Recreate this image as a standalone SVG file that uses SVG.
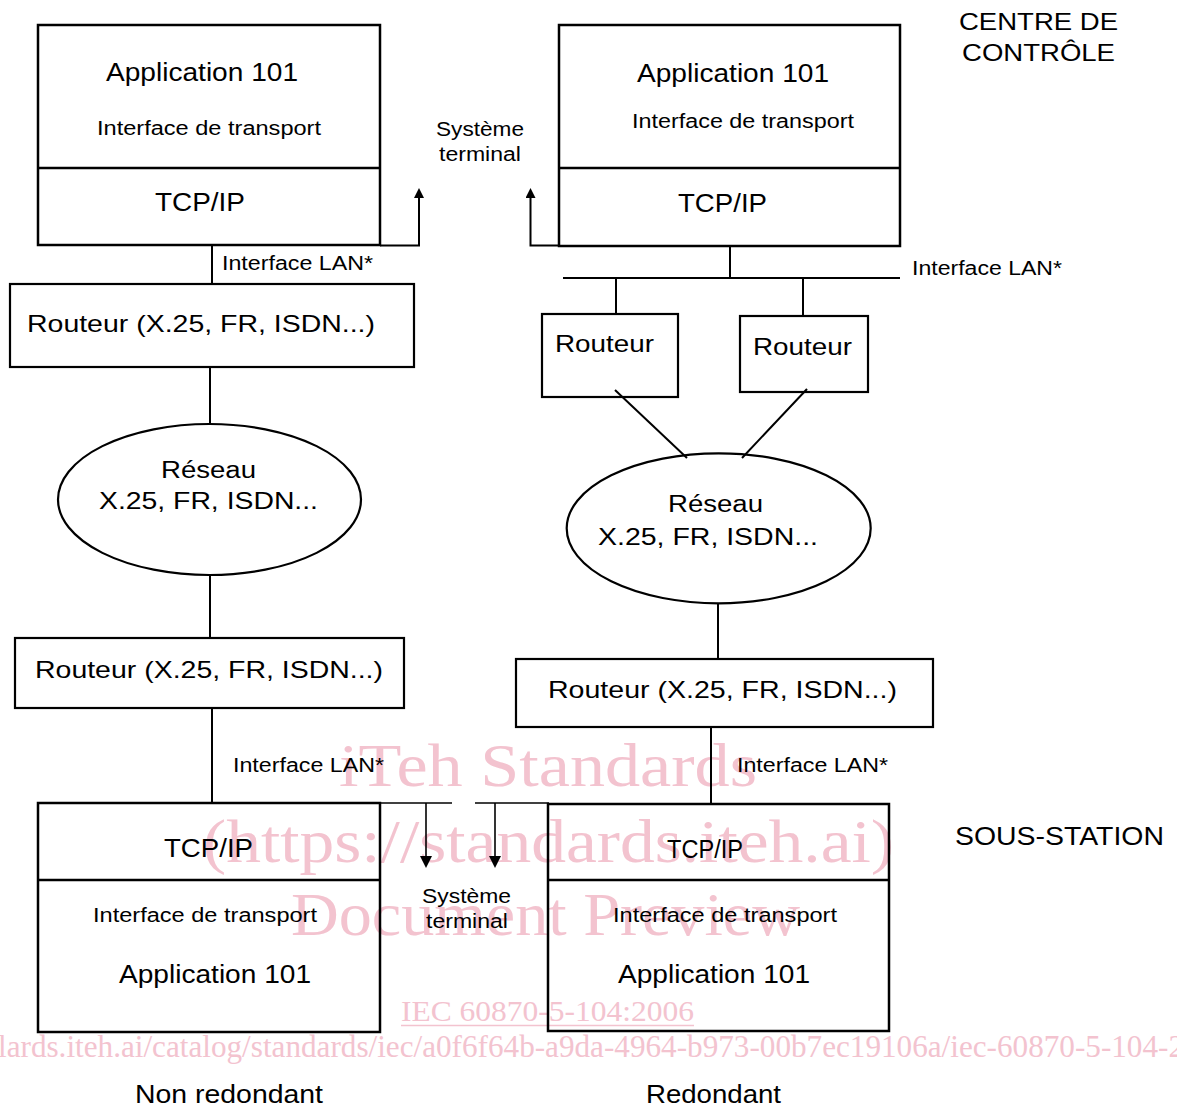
<svg xmlns="http://www.w3.org/2000/svg" width="1177" height="1110" viewBox="0 0 1177 1110">
<defs>
<style>
.bg{fill:#ffffff}
.box{fill:none;stroke:#000;stroke-width:2.5}
.rbox{fill:none;stroke:#000;stroke-width:2.2}
.ln{fill:none;stroke:#000;stroke-width:2}
.thin{fill:none;stroke:#000;stroke-width:1.6}
text{font-family:"Liberation Sans",Arial,sans-serif;fill:#000}
.t25{font-size:25px}
.t24{font-size:24px}
.t23{font-size:23px}
.t20{font-size:20px}
.wm{font-family:"Liberation Serif","Times New Roman",serif;fill:#f3c3cf}
</style>
<marker id="arr" viewBox="0 0 10 10" refX="0" refY="5" markerWidth="11" markerHeight="10" markerUnits="userSpaceOnUse" orient="auto">
<path d="M0,0 L10,5 L0,10 z" fill="#000"/>
</marker>
</defs>
<rect class="bg" x="0" y="0" width="1177" height="1110"/>

<g id="watermark">
<text class="wm" x="339" y="786" font-size="62" textLength="418" lengthAdjust="spacingAndGlyphs">iTeh Standards</text>
<text class="wm" x="203" y="862" font-size="62" textLength="691" lengthAdjust="spacingAndGlyphs">(https://standards.iteh.ai)</text>
<text class="wm" x="291" y="935" font-size="62" textLength="509" lengthAdjust="spacingAndGlyphs">Document Preview</text>
<text class="wm" x="401" y="1021" font-size="30" textLength="293" lengthAdjust="spacingAndGlyphs">IEC 60870-5-104:2006</text>
<line x1="401" y1="1025.5" x2="694" y2="1025.5" stroke="#f3c3cf" stroke-width="1.5"/>
<text class="wm" x="-2" y="1057" font-size="32" textLength="1186" lengthAdjust="spacingAndGlyphs">lards.iteh.ai/catalog/standards/iec/a0f6f64b-a9da-4964-b973-00b7ec19106a/iec-60870-5-104-2</text>
</g>

<g id="connectors">
<line class="ln" x1="212" y1="246" x2="212" y2="284"/>
<path class="ln" d="M380,245.5 H419 V198" marker-end="url(#arr)"/>
<path class="ln" d="M559,245.5 H530.5 V198" marker-end="url(#arr)"/>
<line class="ln" x1="210" y1="367" x2="210" y2="424"/>
<line class="ln" x1="210" y1="575" x2="210" y2="638"/>
<line class="ln" x1="212" y1="708" x2="212" y2="803"/>
<line class="ln" x1="730" y1="246" x2="730" y2="278"/>
<line class="ln" x1="563" y1="278" x2="900" y2="278"/>
<line class="ln" x1="616" y1="278" x2="616" y2="314"/>
<line class="ln" x1="803" y1="278" x2="803" y2="316"/>
<line class="ln" x1="615" y1="390" x2="687" y2="458"/>
<line class="ln" x1="807" y1="389" x2="742" y2="458"/>
<line class="ln" x1="718" y1="603" x2="718" y2="659"/>
<line class="ln" x1="711" y1="727" x2="711" y2="804"/>
<line class="thin" x1="373" y1="803" x2="452" y2="803"/>
<line class="thin" x1="475" y1="803" x2="549" y2="803"/>
<line class="thin" x1="426" y1="803" x2="426" y2="857"/>
<line class="thin" x1="495" y1="803" x2="495" y2="857"/>
<path d="M420,856 L432,856 L426,868 z" fill="#000"/>
<path d="M489,856 L501,856 L495,868 z" fill="#000"/>
</g>

<g id="cc-nonred">
<rect class="box" x="38" y="25" width="342" height="220"/>
<line class="box" x1="38" y1="168" x2="380" y2="168"/>
<text class="t25" x="106" y="81" textLength="192" lengthAdjust="spacingAndGlyphs">Application 101</text>
<text class="t20" x="97" y="135" textLength="224" lengthAdjust="spacingAndGlyphs">Interface de transport</text>
<text class="t25" x="155" y="211" textLength="90" lengthAdjust="spacingAndGlyphs">TCP/IP</text>
</g>

<g id="cc-red">
<rect class="box" x="559" y="25" width="341" height="221"/>
<line class="box" x1="559" y1="168" x2="900" y2="168"/>
<text class="t25" x="637" y="82" textLength="192" lengthAdjust="spacingAndGlyphs">Application 101</text>
<text class="t20" x="632" y="128" textLength="222" lengthAdjust="spacingAndGlyphs">Interface de transport</text>
<text class="t25" x="678" y="212" textLength="89" lengthAdjust="spacingAndGlyphs">TCP/IP</text>
</g>

<g id="label-systeme-top">
<text class="t20" x="436" y="136" textLength="88" lengthAdjust="spacingAndGlyphs">Système</text>
<text class="t20" x="439" y="161" textLength="82" lengthAdjust="spacingAndGlyphs">terminal</text>
</g>

<g id="label-centre">
<text class="t24" x="959" y="30" textLength="159" lengthAdjust="spacingAndGlyphs">CENTRE DE</text>
<text class="t24" x="962" y="61" textLength="153" lengthAdjust="spacingAndGlyphs">CONTRÔLE</text>
</g>

<g id="lan-labels">
<text class="t20" x="222" y="270" textLength="151" lengthAdjust="spacingAndGlyphs">Interface LAN*</text>
<text class="t20" x="912" y="275" textLength="150" lengthAdjust="spacingAndGlyphs">Interface LAN*</text>
<text class="t20" x="233" y="772" textLength="151" lengthAdjust="spacingAndGlyphs">Interface LAN*</text>
<text class="t20" x="737" y="772" textLength="151" lengthAdjust="spacingAndGlyphs">Interface LAN*</text>
</g>

<g id="router-left-top">
<rect class="rbox" x="10" y="284" width="404" height="83"/>
<text class="t24" x="27" y="332" textLength="348" lengthAdjust="spacingAndGlyphs">Routeur (X.25, FR, ISDN...)</text>
</g>

<g id="network-left">
<ellipse class="rbox" cx="209.5" cy="499.5" rx="151.5" ry="75.5"/>
<text class="t23" x="161" y="478" textLength="95" lengthAdjust="spacingAndGlyphs">Réseau</text>
<text class="t23" x="99" y="509" textLength="219" lengthAdjust="spacingAndGlyphs">X.25, FR, ISDN...</text>
</g>

<g id="router-left-bottom">
<rect class="rbox" x="15" y="638" width="389" height="70"/>
<text class="t24" x="35" y="678" textLength="348" lengthAdjust="spacingAndGlyphs">Routeur (X.25, FR, ISDN...)</text>
</g>

<g id="router-right-1">
<rect class="rbox" x="542" y="314" width="136" height="83"/>
<text class="t24" x="555" y="352" textLength="99" lengthAdjust="spacingAndGlyphs">Routeur</text>
</g>

<g id="router-right-2">
<rect class="rbox" x="740" y="316" width="128" height="76"/>
<text class="t24" x="753" y="355" textLength="99" lengthAdjust="spacingAndGlyphs">Routeur</text>
</g>

<g id="network-right">
<ellipse class="rbox" cx="718.7" cy="528.3" rx="152" ry="75"/>
<text class="t23" x="668" y="512" textLength="95" lengthAdjust="spacingAndGlyphs">Réseau</text>
<text class="t23" x="598" y="545" textLength="220" lengthAdjust="spacingAndGlyphs">X.25, FR, ISDN...</text>
</g>

<g id="router-right-bottom">
<rect class="rbox" x="516" y="659" width="417" height="68"/>
<text class="t24" x="548" y="698" textLength="349" lengthAdjust="spacingAndGlyphs">Routeur (X.25, FR, ISDN...)</text>
</g>

<g id="ss-nonred">
<rect class="box" x="38" y="803" width="342" height="229"/>
<line class="box" x1="38" y1="880" x2="380" y2="880"/>
<text class="t25" x="164" y="857" textLength="89" lengthAdjust="spacingAndGlyphs">TCP/IP</text>
<text class="t20" x="93" y="922" textLength="224" lengthAdjust="spacingAndGlyphs">Interface de transport</text>
<text class="t25" x="119" y="983" textLength="192" lengthAdjust="spacingAndGlyphs">Application 101</text>
</g>

<g id="ss-red">
<rect class="box" x="548" y="804" width="341" height="227"/>
<line class="box" x1="548" y1="880" x2="889" y2="880"/>
<text class="t25" x="667" y="858" textLength="76" lengthAdjust="spacingAndGlyphs">TCP/IP</text>
<text class="t20" x="613" y="922" textLength="224" lengthAdjust="spacingAndGlyphs">Interface de transport</text>
<text class="t25" x="618" y="983" textLength="192" lengthAdjust="spacingAndGlyphs">Application 101</text>
</g>

<g id="label-systeme-bottom">
<text class="t20" x="422" y="903" textLength="89" lengthAdjust="spacingAndGlyphs">Système</text>
<text class="t20" x="426" y="928" textLength="82" lengthAdjust="spacingAndGlyphs">terminal</text>
</g>

<g id="label-sous-station">
<text class="t25" x="955" y="845" textLength="209" lengthAdjust="spacingAndGlyphs">SOUS-STATION</text>
</g>

<g id="captions">
<text class="t25" x="135" y="1103" textLength="188" lengthAdjust="spacingAndGlyphs">Non redondant</text>
<text class="t25" x="646" y="1103" textLength="135" lengthAdjust="spacingAndGlyphs">Redondant</text>
</g>
</svg>
